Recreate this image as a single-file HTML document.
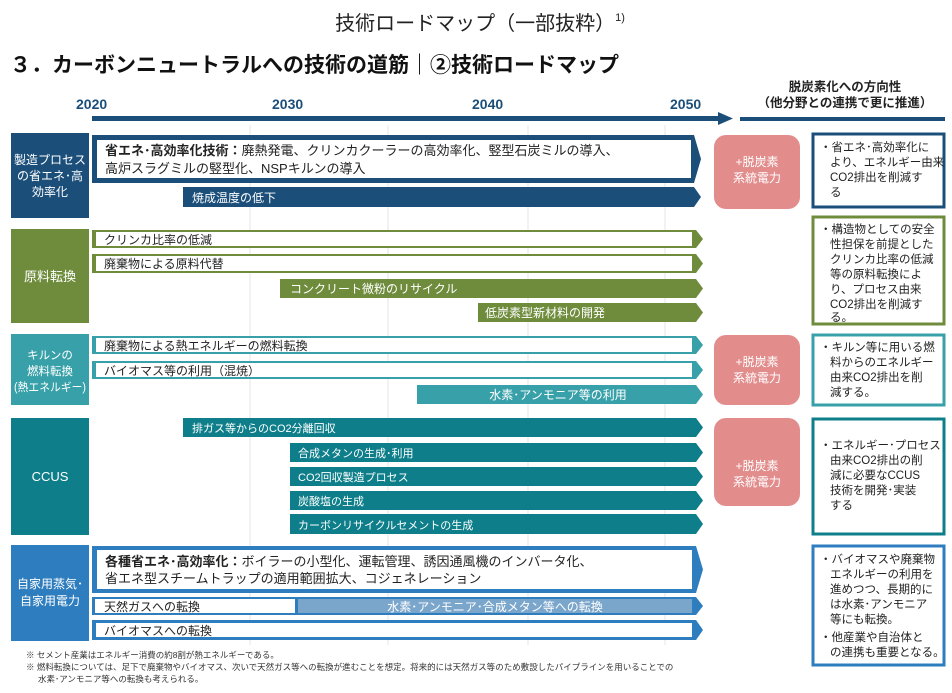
<!DOCTYPE html><html><head><meta charset="utf-8"><style>
body{margin:0;background:#fff;width:952px;height:688px;overflow:hidden}
svg text{font-family:"Liberation Sans","Noto Sans CJK JP",sans-serif}
</style></head><body>
<svg width="952" height="688" xmlns="http://www.w3.org/2000/svg">
<text x="480" y="30" font-size="20" text-anchor="middle" fill="#222">技術ロードマップ（一部抜粋）<tspan font-size="11" dy="-9">1)</tspan></text>
<text x="10" y="72" font-size="21" font-weight="bold" fill="#111">３．カーボンニュートラルへの技術の道筋｜②技術ロードマップ</text>
<g font-size="14" font-weight="bold" fill="#1b4f7a">
<text x="76" y="109">2020</text><text x="272" y="109">2030</text><text x="472" y="109">2040</text><text x="670" y="109">2050</text></g>
<text x="845" y="91" font-size="12.5" font-weight="bold" fill="#222" text-anchor="middle">脱炭素化への方向性</text>
<text x="845" y="107" font-size="12.5" font-weight="bold" fill="#222" text-anchor="middle">（他分野との連携で更に推進）</text>
<rect x="92" y="116" width="630" height="5" fill="#1b4f7a"/><polygon points="718,112 733,118.5 718,125" fill="#1b4f7a"/>
<rect x="740" y="117" width="205" height="4" fill="#1b4f7a"/>
<g stroke="#e4e4e4" stroke-width="1"><line x1="388" y1="125" x2="388" y2="645"/><line x1="528" y1="125" x2="528" y2="645"/><line x1="665" y1="125" x2="665" y2="645"/><line x1="250" y1="125" x2="250" y2="645"/></g>

<rect x="11" y="133" width="78" height="85" fill="#1b4f7a"/>
<g fill="#fff" font-size="12" text-anchor="middle"><text x="50" y="164">製造プロセス</text><text x="50" y="180">の省エネ･高</text><text x="50" y="196">効率化</text></g>
<polygon points="92,135 694,135 701,159 694,183 92,183" fill="#1b4f7a"/>
<rect x="97" y="140" width="594" height="38" fill="#fff"/>
<text x="105" y="155" font-size="13" fill="#222"><tspan font-weight="bold">省エネ･高効率化技術：</tspan>廃熱発電、クリンカクーラーの高効率化、竪型石炭ミルの導入、</text>
<text x="105" y="173" font-size="13" fill="#222">高炉スラグミルの竪型化、NSPキルンの導入</text>
<polygon points="183,187 694,187 701,197 694,207 183,207" fill="#1b4f7a"/>
<text x="192" y="202" font-size="12" fill="#fff">焼成温度の低下</text>
<rect x="714" y="135" width="86" height="74" rx="12" fill="#e28c8c"/>
<text x="757" y="166" font-size="12" fill="#fff" text-anchor="middle">+脱炭素</text><text x="757" y="182" font-size="12" fill="#fff" text-anchor="middle">系統電力</text>
<rect x="813" y="134" width="131" height="73" fill="#fff" stroke="#1b4f7a" stroke-width="3"/>
<g font-size="11.5" fill="#222"><text x="820" y="151">・省エネ･高効率化に</text><text x="830" y="166">より、エネルギー由来</text><text x="830" y="181">CO2排出を削減す</text><text x="830" y="196">る</text></g>

<rect x="11" y="229" width="78" height="94" fill="#6f8c3c"/>
<text x="50" y="281" font-size="13" fill="#fff" text-anchor="middle">原料転換</text>
<g fill="#6f8c3c">
<polygon points="92,230 696,230 703,239 696,248 92,248"/>
<polygon points="92,254 696,254 703,263.5 696,273 92,273"/>
<polygon points="280,279 696,279 703,288.5 696,298 280,298"/>
<polygon points="478,303 696,303 703,312.5 696,322 478,322"/></g>
<rect x="96" y="232" width="596" height="14" fill="#fff"/><rect x="96" y="256" width="596" height="15" fill="#fff"/>
<g font-size="12" fill="#222"><text x="104" y="244">クリンカ比率の低減</text><text x="104" y="268">廃棄物による原料代替</text></g>
<g font-size="12" fill="#fff"><text x="290" y="293">コンクリート微粉のリサイクル</text><text x="485" y="317">低炭素型新材料の開発</text></g>
<rect x="813" y="217" width="131" height="107" fill="#fff" stroke="#6f8c3c" stroke-width="3"/>
<g font-size="11.5" fill="#222"><text x="820" y="233">・構造物としての安全</text><text x="830" y="248">性担保を前提とした</text><text x="830" y="263">クリンカ比率の低減</text><text x="830" y="278">等の原料転換によ</text><text x="830" y="293">り、プロセス由来</text><text x="830" y="308">CO2排出を削減す</text><text x="830" y="321">る。</text></g>

<rect x="11" y="334" width="78" height="71" fill="#37a0a8"/>
<g fill="#fff" font-size="11.5" text-anchor="middle"><text x="50" y="359">キルンの</text><text x="50" y="375">燃料転換</text><text x="50" y="391" textLength="72" lengthAdjust="spacingAndGlyphs">(熱エネルギー)</text></g>
<g fill="#37a0a8">
<polygon points="92,336 696,336 703,345 696,354 92,354"/>
<polygon points="92,361 696,361 703,370 696,379 92,379"/>
<polygon points="417,385 696,385 703,394.5 696,404 417,404"/></g>
<rect x="96" y="338" width="596" height="14" fill="#fff"/><rect x="96" y="363" width="596" height="14" fill="#fff"/>
<g font-size="12" fill="#222"><text x="104" y="350">廃棄物による熱エネルギーの燃料転換</text><text x="104" y="375">バイオマス等の利用（混焼）</text></g>
<text x="558" y="399" font-size="12" fill="#fff" text-anchor="middle">水素･アンモニア等の利用</text>
<rect x="714" y="335" width="86" height="70" rx="12" fill="#e28c8c"/>
<text x="757" y="366" font-size="12" fill="#fff" text-anchor="middle">+脱炭素</text><text x="757" y="382" font-size="12" fill="#fff" text-anchor="middle">系統電力</text>
<rect x="813" y="335" width="131" height="70" fill="#fff" stroke="#37a0a8" stroke-width="3"/>
<g font-size="11.5" fill="#222"><text x="820" y="351">・キルン等に用いる燃</text><text x="830" y="366">料からのエネルギー</text><text x="830" y="381">由来CO2排出を削</text><text x="830" y="396">減する。</text></g>

<rect x="11" y="418" width="78" height="117" fill="#0e7f8a"/>
<text x="50" y="481" font-size="13" fill="#fff" text-anchor="middle">CCUS</text>
<g fill="#0e7f8a">
<polygon points="183,418 696,418 703,427.5 696,437 183,437"/>
<polygon points="290,443 696,443 703,452.5 696,462 290,462"/>
<polygon points="290,467 696,467 703,476.5 696,486 290,486"/>
<polygon points="290,491 696,491 703,500.5 696,510 290,510"/>
<polygon points="290,514 696,514 703,524 696,534 290,534"/></g>
<g font-size="11" fill="#fff"><text x="192" y="432">排ガス等からのCO2分離回収</text><text x="298" y="457">合成メタンの生成･利用</text><text x="298" y="481">CO2回収製造プロセス</text><text x="298" y="505">炭酸塩の生成</text><text x="298" y="529">カーボンリサイクルセメントの生成</text></g>
<rect x="714" y="418" width="86" height="88" rx="12" fill="#e28c8c"/>
<text x="757" y="470" font-size="12" fill="#fff" text-anchor="middle">+脱炭素</text><text x="757" y="486" font-size="12" fill="#fff" text-anchor="middle">系統電力</text>
<rect x="813" y="419" width="131" height="115" fill="#fff" stroke="#0e7f8a" stroke-width="3"/>
<g font-size="11.5" fill="#222"><text x="820" y="449">・エネルギー･プロセス</text><text x="830" y="464">由来CO2排出の削</text><text x="830" y="479">減に必要なCCUS</text><text x="830" y="494">技術を開発･実装</text><text x="830" y="509">する</text></g>

<rect x="11" y="545" width="78" height="96" fill="#2e7dbf"/>
<g fill="#fff" font-size="12" text-anchor="middle"><text x="50" y="588">自家用蒸気･</text><text x="50" y="605">自家用電力</text></g>
<g fill="#2e7dbf">
<polygon points="92,546 696,546 703,569.5 696,593 92,593"/>
<polygon points="92,597 696,597 703,606 696,615 92,615"/>
<polygon points="92,620 696,620 703,630 696,640 92,640"/></g>
<rect x="97" y="550" width="595" height="39" fill="#fff"/>
<rect x="95" y="599" width="200" height="14" fill="#fff"/>
<rect x="298" y="599" width="394" height="14" fill="#7ba6cc"/>
<rect x="96" y="623" width="596" height="14" fill="#fff"/>
<text x="105" y="566" font-size="13" fill="#222"><tspan font-weight="bold">各種省エネ･高効率化：</tspan>ボイラーの小型化、運転管理、誘因通風機のインバータ化、</text>
<text x="105" y="583" font-size="13" fill="#222">省エネ型スチームトラップの適用範囲拡大、コジェネレーション</text>
<text x="104" y="611" font-size="12" fill="#222">天然ガスへの転換</text>
<text x="495" y="611" font-size="12" fill="#fff" text-anchor="middle">水素･アンモニア･合成メタン等への転換</text>
<text x="104" y="635" font-size="12" fill="#222">バイオマスへの転換</text>
<rect x="813" y="546" width="131" height="119" fill="#fff" stroke="#2e7dbf" stroke-width="3"/>
<g font-size="11.5" fill="#222"><text x="820" y="563">・バイオマスや廃棄物</text><text x="830" y="578">エネルギーの利用を</text><text x="830" y="593">進めつつ、長期的に</text><text x="830" y="608">は水素･アンモニア</text><text x="830" y="623">等にも転換。</text><text x="820" y="641">・他産業や自治体と</text><text x="830" y="656">の連携も重要となる。</text></g>

<g font-size="8.5" fill="#333"><text x="26" y="658">※  セメント産業はエネルギー消費の約8割が熱エネルギーである。</text>
<text x="26" y="670">※  燃料転換については、足下で廃棄物やバイオマス、次いで天然ガス等への転換が進むことを想定。将来的には天然ガス等のため敷設したパイプラインを用いることでの</text>
<text x="38" y="682">水素･アンモニア等への転換も考えられる。</text></g>
</svg>
</body></html>
